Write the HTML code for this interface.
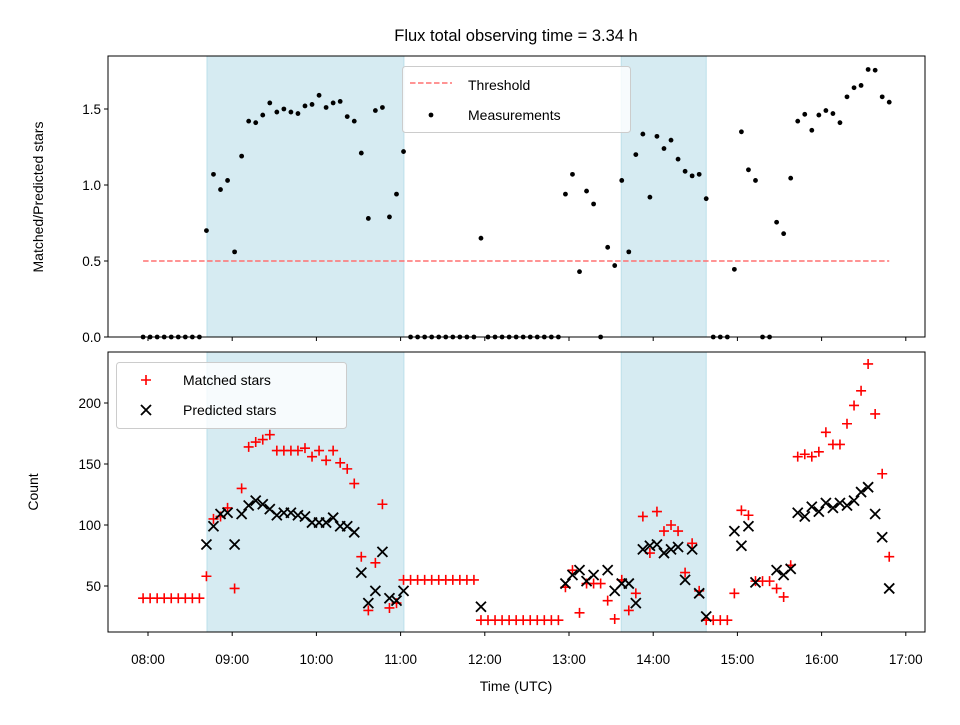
<!DOCTYPE html>
<html><head><meta charset="utf-8"><style>
body{margin:0;background:#fff;}
svg{font-family:"Liberation Sans","DejaVu Sans",sans-serif;}
</style></head><body>
<svg id="c" width="960" height="720" viewBox="0 0 960 720" xmlns="http://www.w3.org/2000/svg"></svg>
<script>
// ---- data ----
const startMinutes = -3.5;   // first sample relative to 08:00
const stepMinutes = 5.016;
const ratio = [0,0,0,0,0,0,0,0,0,0.70,1.07,0.97,1.03,0.56,1.19,1.42,1.41,1.46,1.54,1.48,1.50,1.48,1.47,1.52,1.53,1.59,1.51,1.54,1.55,1.45,1.42,1.21,0.78,1.49,1.51,0.79,0.94,1.22,
0,0,0,0,0,0,0,0,0,0,0.65,0,0,0,0,0,0,0,0,0,0,0,
0.94,1.07,0.43,0.96,0.875,0,0.59,0.47,1.03,0.56,1.20,1.335,0.92,1.32,1.24,1.295,1.17,1.09,1.06,1.07,0.91,0,0,0,0.445,1.35,1.10,1.03,0,0,0.755,0.68,1.045,1.42,1.465,1.36,1.46,1.49,1.47,1.41,1.58,1.64,1.655,1.76,1.755,1.58,1.545];
const matched = [40,40,40,40,40,40,40,40,40,58,105,107,114,48,130,164,168,170,174,161,161,161,161,163,156,161,153,161,151,146,134,74,30,69,117,32,36,55,
55,55,55,55,55,55,55,55,55,55,22,22,22,22,22,22,22,22,22,22,22,22,
49,63,28,52,52,52,38,23,55,30,44,107,77,111,95,100,95,61,85,46,22,22,22,22,44,112,108,54,54,54,48,41,67,156,158,156,160,176,166,166,183,198,210,232,191,142,74];
const predicted = [null,null,null,null,null,null,null,null,null,84,99,109,110,84,109,116,120,117,113,108,110,110,108,107,102,102,102,106,99,99,94,61,36,46,78,40,38,46,
null,null,null,null,null,null,null,null,null,null,33,null,null,null,null,null,null,null,null,null,null,null,
52,59,63,54,59,null,63,46,52,52,36,80,83,84,77,80,82,55,80,44,25,null,null,null,95,83,99,53,null,null,63,59,64,110,107,115,111,118,114,118,116,120,127,131,109,90,48];
const threshold = 0.5;
const shadedSpans = [[0.70,3.04],[5.62,6.63]]; // hours after 08:00
const xTickLabels = ["08:00","09:00","10:00","11:00","12:00","13:00","14:00","15:00","16:00","17:00"];
const topYTicks = [0.0,0.5,1.0,1.5];
const botYTicks = [50,100,150,200];

// ---- scales ----
const L=108,R=925, T1=56,B1=337, T2=352,B2=632;
const xh = h => 148 + h*84.2;
const xs = i => xh((startMinutes + i*stepMinutes)/60);
const y1 = v => 337 - v*152;
const y2 = v => 647 - v*1.22;

const svg=document.getElementById('c');
const NS='http://www.w3.org/2000/svg';
function mk(tag,attrs,parent){const e=document.createElementNS(NS,tag);for(const k in attrs)e.setAttribute(k,attrs[k]);(parent||svg).appendChild(e);return e;}

// title
let t=mk('text',{x:516,y:41,'text-anchor':'middle','font-size':16.5});t.textContent='Flux total observing time = 3.34 h';



function panel(top,bot,name){
  const g=mk('g',{});
  
  
  shadedSpans.forEach((s,k)=>{
    const r=mk('rect',{x:xh(s[0]),y:top,width:xh(s[1])-xh(s[0]),height:bot-top,fill:'#add8e6','fill-opacity':0.5,stroke:'#add8e6','stroke-opacity':0.7},g);
    
    
  });
  return g;
}
function frame(top,bot,g){
  mk('rect',{x:L,y:top,width:R-L,height:bot-top,fill:'none',stroke:'#000','stroke-width':1},g);
  xTickLabels.forEach((lab,i)=>{const x=xh(i);mk('line',{x1:x,x2:x,y1:bot,y2:bot+4,stroke:'#000'},g);});
}

// ---- top panel ----
const g1=panel(T1,B1,'ratio-panel');
const th=mk('line',{x1:xs(0),x2:xs(ratio.length-1),y1:y1(threshold),y2:y1(threshold),stroke:'#ff7070','stroke-width':1.5,'stroke-dasharray':'5.5,2.5'},g1);


ratio.forEach((v,i)=>{
  const c=mk('circle',{cx:xs(i),cy:y1(v),r:2.4,fill:'#000'},g1);
  
  
});
frame(T1,B1,g1);
topYTicks.forEach(v=>{const y=y1(v);mk('line',{x1:L-4,x2:L,y1:y,y2:y,stroke:'#000'},g1);
  const tx=mk('text',{x:L-7,y:y+5,'text-anchor':'end','font-size':13.5},g1);tx.textContent=v.toFixed(1);
  
  });
let yl=mk('text',{x:0,y:0,transform:'translate(43,197) rotate(-90)','text-anchor':'middle','font-size':14});yl.textContent='Matched/Predicted stars';



// top legend
const lg1=mk('g',{});


mk('rect',{x:402.5,y:66.5,width:228,height:66,rx:3,fill:'#fff','fill-opacity':0.8,stroke:'#ccc'},lg1);
mk('line',{x1:410,x2:452,y1:83,y2:83,stroke:'#ff7070','stroke-width':1.5,'stroke-dasharray':'5.5,2.5'},lg1);
let a=mk('text',{x:468,y:90,'font-size':14},lg1);a.textContent='Threshold';
mk('circle',{cx:431,cy:115,r:2.4,fill:'#000'},lg1);
a=mk('text',{x:468,y:120,'font-size':14},lg1);a.textContent='Measurements';

// ---- bottom panel ----
const g2=panel(T2,B2,'count-panel');
function plus(x,y,g){const p=mk('path',{d:`M${x-5},${y}H${x+5}M${x},${y-5}V${y+5}`,stroke:'#f00','stroke-width':1.6,fill:'none'},g);return p;}
function cross(x,y,g){const p=mk('path',{d:`M${x-5},${y-5}L${x+5},${y+5}M${x-5},${y+5}L${x+5},${y-5}`,stroke:'#000','stroke-width':1.8,fill:'none'},g);return p;}
matched.forEach((v,i)=>{if(v==null)return;const p=plus(xs(i),y2(v),g2);
  
  });
predicted.forEach((v,i)=>{if(v==null)return;const p=cross(xs(i),y2(v),g2);
  
  });
frame(T2,B2,g2);
botYTicks.forEach(v=>{const y=y2(v);mk('line',{x1:L-4,x2:L,y1:y,y2:y,stroke:'#000'},g2);
  const tx=mk('text',{x:L-7,y:y+5,'text-anchor':'end','font-size':13.5},g2);tx.textContent=String(v);
  
  });
xTickLabels.forEach((lab,i)=>{const tx=mk('text',{x:xh(i),y:664,'text-anchor':'middle','font-size':13.5},g2);tx.textContent=lab;
  
  });
yl=mk('text',{x:0,y:0,transform:'translate(38,492) rotate(-90)','text-anchor':'middle','font-size':14});yl.textContent='Count';


let xl=mk('text',{x:516,y:691,'text-anchor':'middle','font-size':14});xl.textContent='Time (UTC)';



// bottom legend
const lg2=mk('g',{});


mk('rect',{x:116.5,y:362.5,width:230,height:66,rx:3,fill:'#fff','fill-opacity':0.8,stroke:'#ccc'},lg2);
plus(146,380,lg2);
a=mk('text',{x:183,y:385,'font-size':14},lg2);a.textContent='Matched stars';
cross(146,410,lg2);
a=mk('text',{x:183,y:415,'font-size':14},lg2);a.textContent='Predicted stars';
</script>
</body></html>
